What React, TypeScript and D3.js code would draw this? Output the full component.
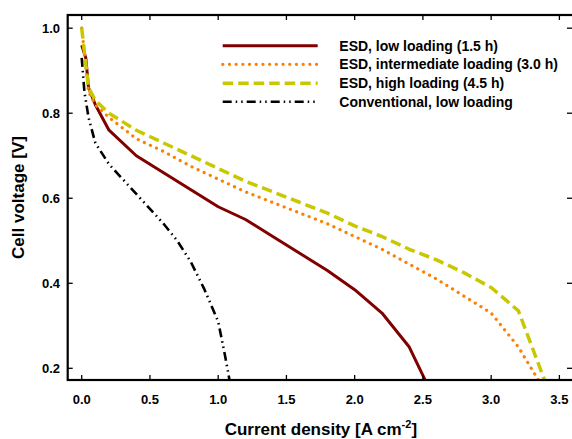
import React, { useRef, useEffect } from "react";
import * as d3 from "d3";

// Polarization curves: current density [A cm-2] vs cell voltage [V]
const lowJ = [0.0, 0.03, 0.05, 0.1, 0.2, 0.4, 0.6, 0.8, 1.0, 1.2, 1.4, 1.6, 1.8, 2.0, 2.2, 2.4, 2.52];
const lowV = [0.96, 0.93, 0.86, 0.82, 0.76, 0.70, 0.66, 0.62, 0.58, 0.55, 0.51, 0.47, 0.43, 0.385, 0.33, 0.25, 0.17];

const midJ = [0.0, 0.05, 0.1, 0.2, 0.4, 0.6, 0.8, 1.0, 1.2, 1.4, 1.6, 1.8, 2.0, 2.2, 2.4, 2.6, 2.8, 3.0, 3.2, 3.35];
const midV = [1.0, 0.85, 0.82, 0.79, 0.74, 0.71, 0.675, 0.645, 0.615, 0.59, 0.565, 0.54, 0.51, 0.48, 0.445, 0.41, 0.37, 0.33, 0.25, 0.17];

const highJ = [0.0, 0.05, 0.1, 0.2, 0.4, 0.6, 0.8, 1.0, 1.2, 1.4, 1.6, 1.8, 2.0, 2.2, 2.4, 2.6, 2.8, 3.0, 3.2, 3.4];
const highV = [1.0, 0.86, 0.83, 0.80, 0.76, 0.73, 0.70, 0.67, 0.64, 0.615, 0.59, 0.565, 0.535, 0.51, 0.48, 0.455, 0.425, 0.39, 0.335, 0.165];

const convJ = [0.0, 0.02, 0.05, 0.1, 0.2, 0.3, 0.4, 0.5, 0.6, 0.7, 0.8, 0.9, 1.0, 1.05, 1.09];
const convV = [0.93, 0.85, 0.79, 0.73, 0.68, 0.645, 0.61, 0.575, 0.54, 0.5, 0.45, 0.385, 0.31, 0.23, 0.16];

const seriesNames = [
  "ESD, low loading (1.5 h)",
  "ESD, intermediate loading (3.0 h)",
  "ESD, high loading (4.5 h)",
  "Conventional, low loading",
];
const xTicks = [0, 0.5, 1.0, 1.5, 2.0, 2.5, 3.0, 3.5];
const yTicks = [0.2, 0.4, 0.6, 0.8, 1.0];

const App = () => {
  const chartRef = useRef<SVGSVGElement | null>(null);

  useEffect(() => {
    const svg = d3.select(chartRef.current);
    svg.selectAll("*").remove();

    const left = 67.7;
    const right = 574;
    const top = 15;
    const bottom = 380;
    const font = "'Liberation Sans', Arial, sans-serif";

    const x = d3.scaleLinear().domain([-0.1026, 3.607]).range([left, right]);
    const y = d3.scaleLinear().domain([0.1725, 1.031]).range([bottom, top]);

    svg
      .append("defs")
      .append("clipPath")
      .attr("id", "plot-clip")
      .append("rect")
      .attr("x", left)
      .attr("y", top)
      .attr("width", right - left)
      .attr("height", bottom - top);

    const series = [
      { name: seriesNames[0], j: lowJ, v: lowV, color: "#800000", width: 3, dash: null, cap: "butt" },
      { name: seriesNames[1], j: midJ, v: midV, color: "#ff8000", width: 3.2, dash: "0.1 6.6", cap: "round" },
      { name: seriesNames[2], j: highJ, v: highV, color: "#c8c800", width: 3.5, dash: "10.5 5", cap: "butt" },
      { name: seriesNames[3], j: convJ, v: convV, color: "#000000", width: 2.6, dash: "9 4 1.5 4 1.5 4", cap: "butt" },
    ];

    const line = d3
      .line<[number, number]>()
      .x((d) => x(d[0]))
      .y((d) => y(d[1]));

    const curves = svg.append("g").attr("clip-path", "url(#plot-clip)");
    series.forEach((s) => {
      const pts = s.j.map((j, i) => [j, s.v[i]] as [number, number]);
      curves
        .append("path")
        .attr("d", line(pts))
        .attr("fill", "none")
        .attr("stroke", s.color)
        .attr("stroke-width", s.width)
        .attr("stroke-linecap", s.cap)
        .attr("stroke-linejoin", "round")
        .attr("stroke-dasharray", s.dash);
    });

    // Frame and inward ticks
    const axes = svg.append("g").attr("stroke", "#000").attr("stroke-width", 1.3);
    xTicks.forEach((t) => {
      axes.append("line").attr("x1", x(t)).attr("x2", x(t)).attr("y1", bottom).attr("y2", bottom - 5);
      axes.append("line").attr("x1", x(t)).attr("x2", x(t)).attr("y1", top).attr("y2", top + 5);
    });
    yTicks.forEach((t) => {
      axes.append("line").attr("x1", left).attr("x2", left + 5).attr("y1", y(t)).attr("y2", y(t));
      axes.append("line").attr("x1", right).attr("x2", right - 7).attr("y1", y(t)).attr("y2", y(t));
    });
    svg
      .append("rect")
      .attr("x", left)
      .attr("y", top)
      .attr("width", right - left)
      .attr("height", bottom - top)
      .attr("fill", "none")
      .attr("stroke", "#000")
      .attr("stroke-width", 2.2);

    const labels = svg.append("g").attr("font-family", font).attr("font-weight", "bold").attr("fill", "#000");
    xTicks.forEach((t) => {
      labels
        .append("text")
        .attr("x", x(t))
        .attr("y", 404)
        .attr("text-anchor", "middle")
        .attr("font-size", 13)
        .text(d3.format(".1f")(t));
    });
    yTicks.forEach((t) => {
      labels
        .append("text")
        .attr("x", 60)
        .attr("y", y(t))
        .attr("dy", "0.35em")
        .attr("text-anchor", "end")
        .attr("font-size", 13)
        .text(d3.format(".1f")(t));
    });

    const xTitle = labels
      .append("text")
      .attr("x", (left + right) / 2)
      .attr("y", 435)
      .attr("text-anchor", "middle")
      .attr("font-size", 17);
    xTitle.append("tspan").text("Current density [A cm");
    xTitle.append("tspan").attr("font-size", 11).attr("dy", -7).text("-2");
    xTitle.append("tspan").attr("dy", 7).text("]");

    labels
      .append("text")
      .attr("transform", `translate(24, ${(top + bottom) / 2}) rotate(-90)`)
      .attr("text-anchor", "middle")
      .attr("font-size", 17)
      .text("Cell voltage [V]");

    // Legend
    const legendY = [45.7, 64.3, 83.3, 101.7];
    const legend = svg.append("g");
    series.forEach((s, i) => {
      legend
        .append("line")
        .attr("x1", 222.7)
        .attr("x2", 317.7)
        .attr("y1", legendY[i])
        .attr("y2", legendY[i])
        .attr("stroke", s.color)
        .attr("stroke-width", s.width)
        .attr("stroke-linecap", s.cap)
        .attr("stroke-dasharray", s.dash);
      legend
        .append("text")
        .attr("x", 339.3)
        .attr("y", legendY[i])
        .attr("dy", "0.35em")
        .attr("font-family", font)
        .attr("font-weight", "bold")
        .attr("font-size", 14)
        .text(s.name);
    });
  }, []);

  return (
    <svg
      ref={chartRef}
      width={572}
      height={439}
      style={{ position: "absolute", left: 0, top: 0, background: "#fff" }}
    />
  );
};

export default App;
